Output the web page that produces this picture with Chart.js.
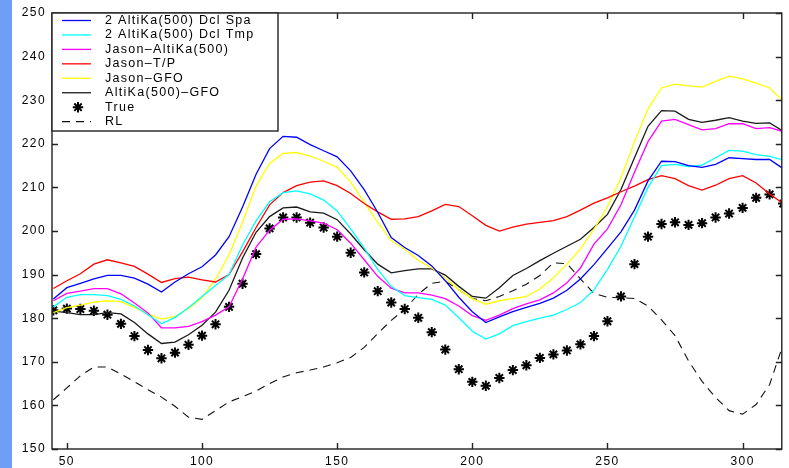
<!DOCTYPE html>
<html>
<head>
<meta charset="utf-8">
<script src="https://cdn.jsdelivr.net/npm/chart.js@4.4.1/dist/chart.umd.min.js"></script>
<style>
  html, body { margin: 0; padding: 0; background: #fff; }
  #wrap { position: relative; width: 789px; height: 468px; }
  #bar { position: absolute; left: 0; top: 0; width: 12px; height: 468px; background: #6f9ef6; }
</style>
</head>
<body>
<div id="wrap">
  <canvas id="chart" width="789" height="468"></canvas>
  <div id="bar"></div>
</div>
<script>
// abscisses (pas de 5)
const xs = [45, 50, 55, 60, 65, 70, 75, 80, 85, 90, 95, 100, 105, 110, 115, 120, 125, 130, 135, 140,
  145, 150, 155, 160, 165, 170, 175, 180, 185, 190, 195, 200, 205, 210, 215, 220, 225, 230, 235, 240,
  245, 250, 255, 260, 265, 270, 275, 280, 285, 290, 295, 300, 305, 310, 315];

const dclSpa = [184.4, 187, 188, 189, 189.8, 189.8, 189.2, 187.8, 186, 188.3, 190.2, 191.8, 194.5, 198.7, 205.5, 213, 218.9, 221.7, 221.5, 219.8,
  218.4, 217, 213.8, 209.5, 204.3, 198.5, 196.2, 194.4, 192, 188.6, 184.8, 181.5, 179, 180.3, 181.5, 182.5, 183.4, 184.6, 186.4, 189,
  192.3, 196, 199.8, 204.8, 211.5, 216, 215.9, 215, 214.6, 215.3, 216.8, 216.6, 216.4, 216.4, 214.3];

const dclTmp = [182.6, 184.8, 185.4, 185.4, 185.2, 184.3, 182.8, 180.8, 178.7, 180.2, 182.4, 185, 187.5, 190, 196.8, 202.3, 206.7, 208.8, 209.2, 208.5,
  207.1, 204.6, 200.5, 196.1, 191.2, 187.3, 185.2, 184.7, 184.3, 183, 180.1, 177, 175.2, 176.4, 178.3, 179.2, 180, 180.7, 182, 183.6,
  186.5, 191.2, 196.5, 203.2, 210, 215, 215.3, 214.8, 215.1, 216.8, 218.5, 218.3, 217.5, 217.1, 216.3];

const jasonAltika = [184, 185.7, 186.2, 186.8, 186.8, 185.6, 183.5, 181.2, 177.8, 177.8, 178.1, 179.2, 180.7, 182.6, 189, 196.3, 200.2, 202.7, 202.8, 202.3,
  201.8, 200.3, 197.2, 193.4, 189.6, 186.9, 185.8, 185.8, 185.3, 184.5, 182.8, 180.6, 179.5, 180.7, 182.2, 183.3, 184.2, 185.8, 188.1, 191.5,
  197, 200.5, 206, 213.5, 220.5, 225.2, 225.6, 224.4, 223.2, 223.5, 224.6, 224.6, 223.5, 223.7, 222.8];

const jasonTP = [186.8, 188.6, 190.2, 192.4, 193.4, 192.7, 191.9, 190.1, 188.2, 189.1, 189.4, 188.8, 188.3, 190, 195.2, 200.8, 206, 208.8, 210.4, 211.2,
  211.5, 210.4, 208.6, 206.3, 204.4, 202.7, 202.8, 203.3, 204.6, 206.1, 205.6, 203.5, 201.3, 200, 200.9, 201.6, 202, 202.4, 203.3, 204.8,
  206.4, 207.6, 209, 210.3, 211.8, 212.7, 212, 210.4, 209.4, 210.5, 212, 212.7, 211, 208.5, 206.3];

const jasonGFO = [181.3, 182.4, 183, 183.7, 184, 183.8, 182.5, 181, 179.8, 180.4, 182.2, 184.7, 189, 194.5, 202, 210.3, 215.5, 217.8, 218, 217.2,
  216, 214.6, 211.2, 206.6, 202, 197.8, 195.8, 193.3, 191.5, 189.2, 186.5, 184.5, 183.2, 184, 184.5, 185, 186.7, 189.3, 192.4, 195.9,
  200.4, 205.5, 212.2, 220.5, 228, 232.8, 233.7, 233.3, 233, 234.3, 235.5, 234.9, 233.9, 232.8, 229.8];

const altikaGFO = [181.6, 181.3, 180.8, 180.8, 181.3, 181, 179, 176.4, 174.2, 174.5, 176.2, 178.4, 181.4, 186.4, 193.8, 199.7, 203.3, 205.3, 205.5, 204.4,
  204.1, 202.6, 199.3, 195.7, 192.4, 190.4, 190.9, 191.3, 191.3, 189.9, 187.3, 185, 184.6, 187, 189.8, 191.4, 193.2, 194.9, 196.5, 198.1,
  200.8, 203.8, 209.5, 216.8, 224, 227.6, 227.5, 225.6, 224.9, 225.4, 226, 225.2, 224.7, 224.8, 222.9];

const trueVals = [181.8, 182.2, 182.1, 181.7, 180.8, 178.7, 175.9, 172.7, 170.8, 172.1, 173.9, 176, 178.6, 182.6, 187.9, 194.7, 200.6, 203.1, 203.1, 201.9,
  200.8, 198.7, 195, 190.5, 186.2, 183.6, 182.1, 180.1, 176.8, 172.8, 168.3, 165.4, 164.5, 166.3, 168.1, 169.2, 170.9, 171.7, 172.6, 174,
  175.9, 179.3, 185, 192.4, 198.7, 201.6, 202, 201.4, 201.8, 203.1, 204, 205.3, 207.6, 208.4, 206.3];

const rl = [161.3, 164, 166.8, 168.8, 168.8, 167.2, 165.4, 163.6, 161.9, 159.8, 157.3, 156.8, 158.8, 160.8, 162, 163.3, 165, 166.5, 167.5, 168.1,
  168.8, 169.8, 171, 173.3, 176.5, 179.5, 182, 185.5, 188, 188.5, 186.5, 184.5, 184, 185, 186.3, 187.8, 189.8, 192.7, 192.5, 189,
  185.7, 184.8, 184.7, 184.5, 182.8, 179.6, 176, 170.2, 165.5, 161.8, 158.8, 158, 160.2, 164.8, 174];

const xTicks = [50, 100, 150, 200, 250, 300];
const yTicks = [150, 160, 170, 180, 190, 200, 210, 220, 230, 240, 250];

const FONT = '12px "Liberation Sans", Arial, sans-serif';
const FONT_LEG = '12.5px "Liberation Sans", Arial, sans-serif';

function pts(vals) {
  return xs.map((x, i) => ({ x: x, y: vals[i] }));
}

function serie(label, vals, color, extra) {
  return Object.assign({
    label: label,
    data: pts(vals),
    borderColor: color,
    backgroundColor: color,
    borderWidth: 1.3,
    pointRadius: 0,
    tension: 0,
    fill: false
  }, extra || {});
}

// cadre, graduations vers l'intérieur, étiquettes et légende encadrée
const cadre = {
  id: 'cadre',
  afterDraw(chart) {
    const ctx = chart.ctx;
    const a = chart.chartArea;
    const sx = chart.scales.x, sy = chart.scales.y;
    ctx.save();
    ctx.strokeStyle = '#222';
    ctx.lineWidth = 1.4;
    ctx.strokeRect(a.left, a.top, a.right - a.left, a.bottom - a.top);

    ctx.beginPath();
    xTicks.forEach(v => {
      const px = Math.round(sx.getPixelForValue(v)) + 0.5;
      ctx.moveTo(px, a.bottom); ctx.lineTo(px, a.bottom - 6);
      ctx.moveTo(px, a.top); ctx.lineTo(px, a.top + 6);
    });
    yTicks.forEach(v => {
      const py = Math.round(sy.getPixelForValue(v)) + 0.5;
      ctx.moveTo(a.left, py); ctx.lineTo(a.left + 6, py);
      ctx.moveTo(a.right, py); ctx.lineTo(a.right - 6, py);
    });
    ctx.stroke();

    ctx.fillStyle = '#000';
    ctx.font = FONT;
    ctx.letterSpacing = '1.4px';
    ctx.textBaseline = 'middle';
    ctx.textAlign = 'left';
    yTicks.forEach(v => {
      const t = String(v);
      const w = ctx.measureText(t).width;
      ctx.fillText(t, a.left - 6 - w, sy.getPixelForValue(v));
    });
    xTicks.forEach(v => {
      const t = String(v);
      const w = ctx.measureText(t).width;
      ctx.fillText(t, sx.getPixelForValue(v) - w / 2, a.bottom + 13);
    });

    // légende
    const box = { l: a.left, t: a.top, r: 278, b: 131 };
    ctx.fillStyle = '#fff';
    ctx.fillRect(box.l, box.t, box.r - box.l, box.b - box.t);
    ctx.strokeStyle = '#222';
    ctx.lineWidth = 1.4;
    ctx.strokeRect(box.l, box.t, box.r - box.l, box.b - box.t);
    ctx.font = FONT_LEG;
    ctx.letterSpacing = '1.3px';
    chart.data.datasets.forEach((ds, i) => {
      const y = 20.5 + i * 14.45;
      if (ds.showLine === false) {
        ctx.strokeStyle = ds.pointBorderColor;
        ctx.fillStyle = ds.pointBackgroundColor;
        ctx.lineWidth = ds.pointBorderWidth;
        Chart.helpers.drawPoint(ctx, {
          pointStyle: ds.pointStyle, radius: ds.pointRadius, borderWidth: ds.pointBorderWidth
        }, 78, y);
      } else {
        ctx.strokeStyle = ds.borderColor;
        ctx.lineWidth = 1.3;
        ctx.setLineDash(ds.borderDash || []);
        ctx.beginPath();
        ctx.moveTo(62, y); ctx.lineTo(91, y);
        ctx.stroke();
        ctx.setLineDash([]);
      }
      ctx.fillStyle = '#000';
      ctx.fillText(ds.label, 105, y);
    });
    ctx.restore();
  }
};

new Chart(document.getElementById('chart'), {
  type: 'line',
  data: {
    datasets: [
      serie('2 AltiKa(500) Dcl Spa', dclSpa, '#0000ff'),
      serie('2 AltiKa(500) Dcl Tmp', dclTmp, '#00ffff'),
      serie('Jason–AltiKa(500)', jasonAltika, '#ff00ff'),
      serie('Jason–T/P', jasonTP, '#ff0000'),
      serie('Jason–GFO', jasonGFO, '#ffff00'),
      serie('AltiKa(500)–GFO', altikaGFO, '#1a1a1a'),
      serie('True', trueVals, '#000000', {
        showLine: false, pointStyle: 'star', pointRadius: 5.2, pointBorderWidth: 2,
        pointBorderColor: '#000', pointBackgroundColor: '#000'
      }),
      serie('RL', rl, '#111111', { borderDash: [8, 6], borderWidth: 1.1 })
    ]
  },
  options: {
    responsive: false,
    animation: false,
    layout: { padding: { left: 12, right: 7, top: 13, bottom: 0 } },
    plugins: { legend: { display: false }, tooltip: { enabled: false } },
    scales: {
      x: {
        type: 'linear', min: 44.5, max: 314.5,
        afterBuildTicks: s => { s.ticks = xTicks.map(v => ({ value: v })); },
        afterFit: s => { s.height = 19; },
        ticks: { display: false },
        grid: { display: false, drawTicks: false },
        border: { display: false }
      },
      y: {
        type: 'linear', min: 150, max: 250,
        afterBuildTicks: s => { s.ticks = yTicks.map(v => ({ value: v })); },
        afterFit: s => { s.width = 40; },
        ticks: { display: false },
        grid: { display: false, drawTicks: false },
        border: { display: false }
      }
    }
  },
  plugins: [cadre]
});
</script>
</body>
</html>
